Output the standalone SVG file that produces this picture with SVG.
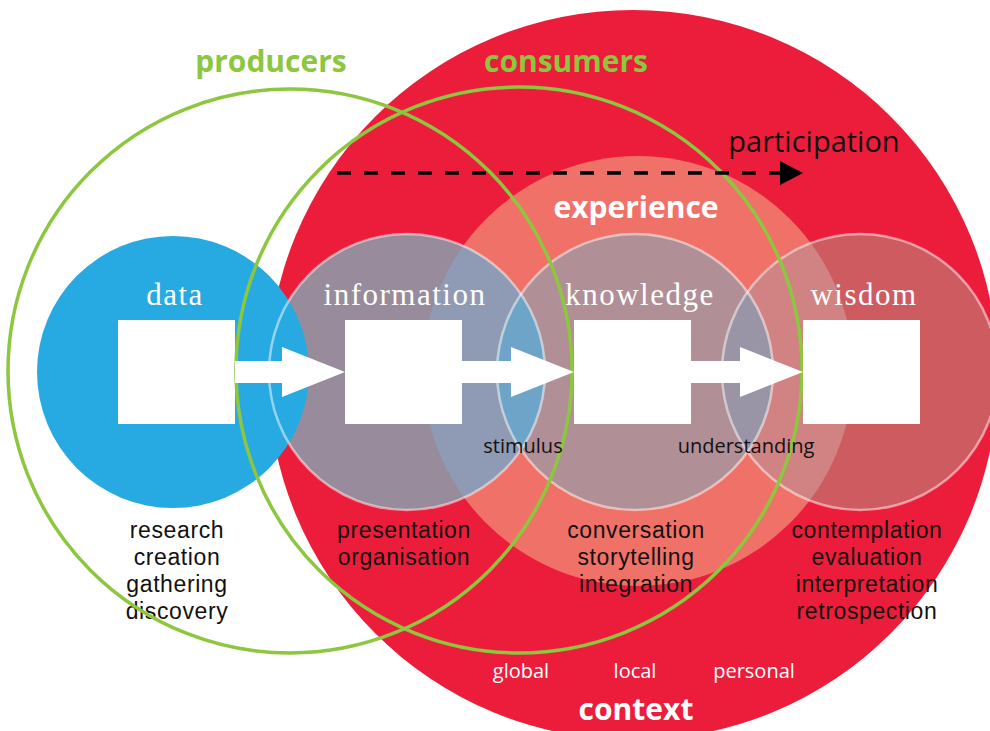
<svg xmlns="http://www.w3.org/2000/svg" width="990" height="731" viewBox="0 0 990 731">
  <style>
    .ring { fill: none; stroke: #ffffff; stroke-opacity: 0.5; stroke-width: 2.5; }
    .group-ring { fill: none; stroke: #8DC63F; stroke-width: 3.5; }
    .box { fill: #ffffff; }
    .flow { fill: #ffffff; }
    .stage { font-family: "Liberation Serif", serif; font-size: 31px; letter-spacing: 1.5px; fill: #ffffff; text-anchor: middle; }
    .title { font-family: "Open Sans", "Liberation Sans", sans-serif; font-size: 30px; font-weight: bold; text-anchor: middle; }
    .green { fill: #8DC63F; }
    .white { fill: #ffffff; }
    .act { font-family: "Liberation Sans", Arial, sans-serif; font-size: 23px; letter-spacing: 0.6px; fill: #111111; text-anchor: middle; }
    .small { font-family: "Open Sans", "Liberation Sans", sans-serif; font-size: 20px; text-anchor: middle; }
    .dash { stroke: #000000; stroke-width: 3.5; stroke-dasharray: 14 13; fill: none; }
  </style>
  <defs>
    <clipPath id="clip-exp"><circle cx="638" cy="371" r="215"/></clipPath>
    <clipPath id="clip-know"><circle cx="635" cy="372" r="138"/></clipPath>
    <marker id="head" markerUnits="userSpaceOnUse" markerWidth="24" markerHeight="26" refX="0" refY="12" orient="auto">
      <polygon points="0,0 23,12 0,24" fill="#000000"/>
    </marker>
  </defs>

  <rect width="990" height="731" fill="#ffffff"/>

  <!-- context: the large red field -->
  <g id="context">
    <circle cx="633" cy="375" r="365" fill="#EC1D3B"/>
    <text class="title white" x="636" y="720">context</text>
    <text class="small white" x="521" y="678">global</text>
    <text class="small white" x="635" y="678">local</text>
    <text class="small white" x="754" y="678">personal</text>
  </g>

  <!-- experience -->
  <g id="experience">
    <circle cx="638" cy="371" r="215" fill="#F07167"/>
    <text class="title white" x="636" y="218">experience</text>
  </g>

  <!-- stage fills and their overlaps -->
  <g id="stage-fills">
    <circle cx="407" cy="372" r="138" fill="#978B9C"/>
    <circle cx="407" cy="372" r="138" fill="#8F9AB4" clip-path="url(#clip-exp)"/>
    <circle cx="635" cy="372" r="138" fill="#B18F96"/>
    <circle cx="407" cy="372" r="138" fill="#6EA4C8" clip-path="url(#clip-know)"/>
    <circle cx="860" cy="372" r="138" fill="#CE5B5F"/>
    <circle cx="860" cy="372" r="138" fill="#D18383" clip-path="url(#clip-exp)"/>
    <circle cx="860" cy="372" r="138" fill="#9A94A7" clip-path="url(#clip-know)"/>
  </g>

  <g id="data">
    <circle cx="173" cy="372" r="136" fill="#27AAE1"/>
    <rect class="box" x="118" y="320" width="117" height="104"/>
    <text class="stage" x="175" y="305">data</text>
    <text class="act" x="177" y="538">research</text>
    <text class="act" x="177" y="565">creation</text>
    <text class="act" x="177" y="592">gathering</text>
    <text class="act" x="177" y="619">discovery</text>
  </g>

  <!-- stage outlines -->
  <g id="stage-rings">
    <circle class="ring" cx="407" cy="372" r="138"/>
    <circle class="ring" cx="635" cy="372" r="138"/>
    <circle class="ring" cx="860" cy="372" r="138"/>
  </g>

  <g id="producers">
    <circle class="group-ring" cx="290" cy="371" r="282"/>
    <text class="title green" x="271" y="72">producers</text>
  </g>

  <g id="consumers">
    <circle class="group-ring" cx="519" cy="370" r="283"/>
    <text class="title green" x="566" y="72">consumers</text>
  </g>

  <g id="information">
    <rect class="box" x="345" y="320" width="117" height="104"/>
    <text class="stage" x="405" y="305">information</text>
    <text class="act" x="404" y="538">presentation</text>
    <text class="act" x="404" y="565">organisation</text>
  </g>

  <g id="knowledge">
    <rect class="box" x="574" y="320" width="117" height="104"/>
    <text class="stage" x="640" y="305">knowledge</text>
    <text class="act" x="636" y="538">conversation</text>
    <text class="act" x="636" y="565">storytelling</text>
    <text class="act" x="636" y="592">integration</text>
  </g>

  <g id="wisdom">
    <rect class="box" x="803" y="320" width="117" height="104"/>
    <text class="stage" x="864" y="305">wisdom</text>
    <text class="act" x="867" y="538">contemplation</text>
    <text class="act" x="867" y="565">evaluation</text>
    <text class="act" x="867" y="592">interpretation</text>
    <text class="act" x="867" y="619">retrospection</text>
  </g>

  <g id="connectors">
    <polygon class="flow" points="235,361 282,361 282,347 345,372 282,397 282,383 235,383"/>
    <polygon class="flow" points="462,361 511,361 511,347 574,372 511,397 511,383 462,383"/>
    <polygon class="flow" points="691,361 740,361 740,347 803,372 740,397 740,383 691,383"/>
    <text class="small" x="523" y="453" fill="#111111">stimulus</text>
    <text class="small" x="746" y="453" fill="#111111">understanding</text>
    <line class="dash" x1="337" y1="173" x2="780" y2="173" marker-end="url(#head)"/>
    <text x="814" y="152" font-family="Open Sans, Liberation Sans, sans-serif" font-size="29" fill="#111111" text-anchor="middle">participation</text>
  </g>
</svg>
